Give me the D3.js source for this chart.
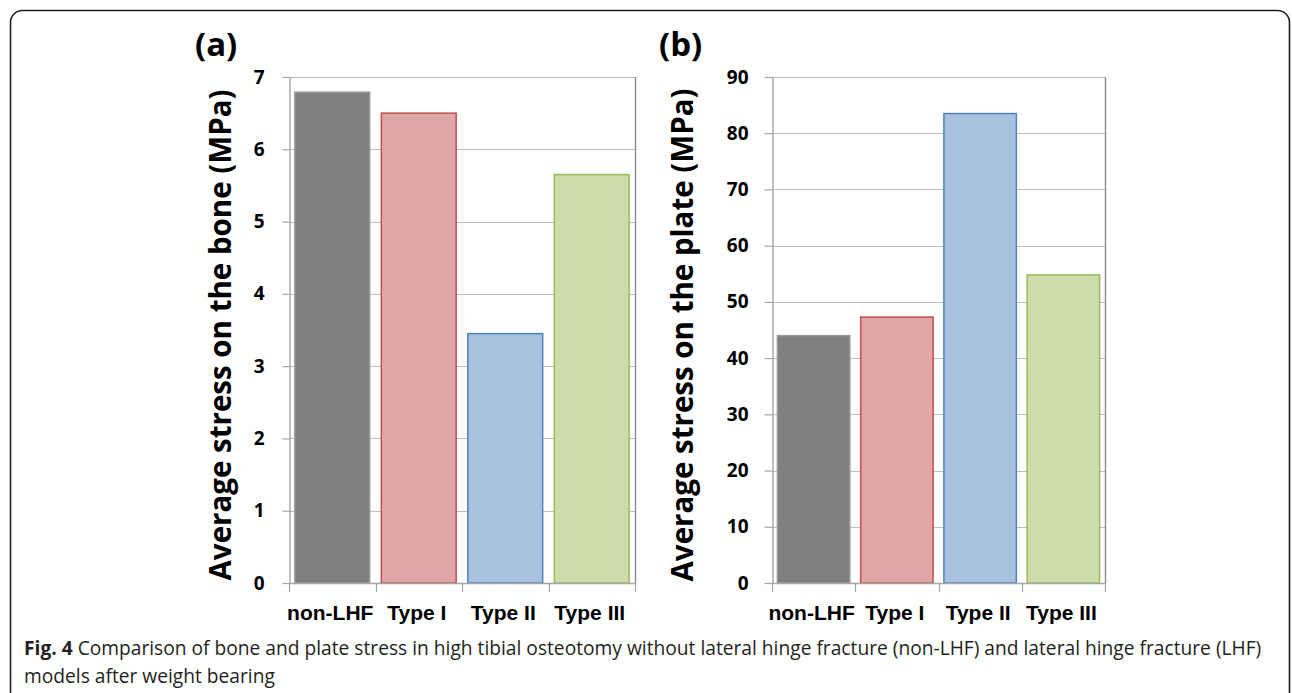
<!DOCTYPE html>
<html>
<head>
<meta charset="utf-8">
<script src="https://cdn.jsdelivr.net/npm/d3@7"></script>
<style>
  body { margin: 0; background: #fff; }
  svg { display: block; }
</style>
</head>
<body>
<div id="chart"></div>
<script>
// Data
var categories = ["non-LHF", "Type I", "Type II", "Type III"];
var boneStress = [6.79, 6.50, 3.45, 5.65];
var plateStress = [44.0, 47.3, 83.5, 54.8];
var boneTicks = [0, 1, 2, 3, 4, 5, 6, 7];
var plateTicks = [0, 10, 20, 30, 40, 50, 60, 70, 80, 90];
var fills = ["#7f7f7f", "#e0a6a7", "#a8c1df", "#cddda9"];
var strokes = ["#9a9a9a", "#c0504d", "#4f81bd", "#9bbb59"];

var svgWidth = 1292;
var svgHeight = 693;

var svg = d3.select("#chart")
    .append("svg")
    .attr("width", svgWidth)
    .attr("height", svgHeight);

// Outer frame with rounded corners (bottom is cut off by the picture)
svg.append("rect")
    .attr("x", 10.5)
    .attr("y", 10.5)
    .attr("width", 1279)
    .attr("height", 740)
    .attr("rx", 12)
    .attr("fill", "none")
    .attr("stroke", "#231f20")
    .attr("stroke-width", 1.6);

function drawPanel(p) {
    var g = svg.append("g");

    var xScale = d3.scaleBand()
        .domain(categories)
        .range([p.left, p.right])
        .paddingInner(p.pad)
        .paddingOuter(p.pad / 2);

    var yScale = d3.scaleLinear()
        .domain([0, d3.max(p.ticks)])
        .range([p.bottom, p.top]);

    // gridlines
    g.selectAll(".grid")
        .data(p.ticks.slice(1))
        .enter()
        .append("line")
        .attr("x1", p.left)
        .attr("x2", p.right)
        .attr("y1", d => Math.round(yScale(d)) + 0.5)
        .attr("y2", d => Math.round(yScale(d)) + 0.5)
        .attr("stroke", "#bdbdbd")
        .attr("stroke-width", 1.2);

    // right border of plot area
    g.append("line")
        .attr("x1", p.right + 0.5)
        .attr("x2", p.right + 0.5)
        .attr("y1", p.top)
        .attr("y2", p.bottom)
        .attr("stroke", "#8c8c8c")
        .attr("stroke-width", 1.4);

    // bars
    g.selectAll(".bar")
        .data(p.values)
        .enter()
        .append("rect")
        .attr("x", (d, i) => xScale(categories[i]))
        .attr("width", xScale.bandwidth())
        .attr("y", d => yScale(d))
        .attr("height", d => p.bottom - yScale(d))
        .attr("fill", (d, i) => fills[i])
        .attr("stroke", (d, i) => strokes[i])
        .attr("stroke-width", 1.5);

    // y axis
    var leftAxis = d3.axisLeft(yScale)
        .tickValues(p.ticks)
        .tickFormat(d3.format("d"))
        .tickSizeInner(p.tickLen)
        .tickSizeOuter(0)
        .tickPadding(p.tickPad);

    var yAxisG = g.append("g")
        .attr("transform", `translate(${p.left + 0.5},0)`)
        .call(leftAxis);
    yAxisG.select(".domain").attr("stroke", "#a6a6a6").attr("stroke-width", 1.4);
    yAxisG.selectAll(".tick line").attr("stroke", "#a6a6a6").attr("stroke-width", 1.2);
    yAxisG.selectAll(".tick text")
        .style("font-family", "'Open Sans', sans-serif")
        .style("font-weight", "bold")
        .style("font-size", "19px")
        .attr("fill", "#000");

    // x axis line and boundary ticks
    g.append("line")
        .attr("x1", p.left)
        .attr("x2", p.right)
        .attr("y1", p.bottom + 0.5)
        .attr("y2", p.bottom + 0.5)
        .attr("stroke", "#a6a6a6")
        .attr("stroke-width", 1.4);

    var bounds = d3.range(categories.length + 1).map(i => p.left + i * xScale.step());
    g.selectAll(".xtick")
        .data(bounds)
        .enter()
        .append("line")
        .attr("x1", d => Math.round(d) + 0.5)
        .attr("x2", d => Math.round(d) + 0.5)
        .attr("y1", p.bottom)
        .attr("y2", p.bottom + 9)
        .attr("stroke", "#a6a6a6")
        .attr("stroke-width", 1.2);

    g.selectAll(".xlabel")
        .data(categories)
        .enter()
        .append("text")
        .attr("x", d => xScale(d) + xScale.bandwidth() / 2 - 2)
        .attr("y", p.bottom + 37)
        .attr("text-anchor", "middle")
        .style("font-family", "'Liberation Sans', Arial, sans-serif")
        .style("font-weight", "bold")
        .style("font-size", "21px")
        .text(d => d);

    // y axis title
    g.append("text")
        .attr("transform", `translate(${p.titleX}, ${(p.top + p.bottom) / 2 + 5}) rotate(-90)`)
        .attr("text-anchor", "middle")
        .style("font-family", "'Open Sans', sans-serif")
        .style("font-weight", "bold")
        .style("font-size", "29.5px")
        .text(p.title);

    // panel letter
    g.append("text")
        .attr("x", p.letterX)
        .attr("y", 56)
        .style("font-family", "'Open Sans', sans-serif")
        .style("font-weight", "bold")
        .style("font-size", "33px")
        .text(p.letter);
}

drawPanel({
    values: boneStress, ticks: boneTicks,
    left: 289, right: 635, top: 77, bottom: 583, pad: 0.135,
    tickLen: 7, tickPad: 18,
    title: "Average stress on the bone (MPa)", titleX: 231,
    letter: "(a)", letterX: 195
});

drawPanel({
    values: plateStress, ticks: plateTicks,
    left: 772, right: 1105, top: 77, bottom: 583, pad: 0.13,
    tickLen: 8, tickPad: 16,
    title: "Average stress on the plate (MPa)", titleX: 693,
    letter: "(b)", letterX: 659
});

// Caption
var caption = svg.append("text")
    .attr("x", 24)
    .attr("y", 655)
    .style("font-family", "'Open Sans', sans-serif")
    .style("font-size", "19.2px")
    .attr("fill", "#231f20");
caption.append("tspan").style("font-weight", "bold").text("Fig. 4");
caption.append("tspan").text(" Comparison of bone and plate stress in high tibial osteotomy without lateral hinge fracture (non-LHF) and lateral hinge fracture (LHF)");

svg.append("text")
    .attr("x", 24)
    .attr("y", 683)
    .style("font-family", "'Open Sans', sans-serif")
    .style("font-size", "19.2px")
    .attr("fill", "#231f20")
    .text("models after weight bearing");
</script>
</body>
</html>
